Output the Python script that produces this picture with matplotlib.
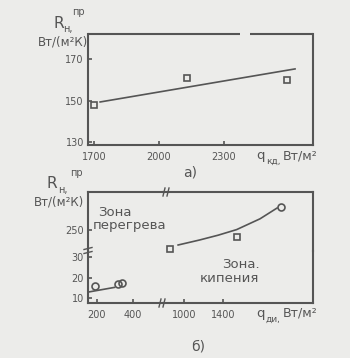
import matplotlib
matplotlib.use("Agg")
import matplotlib.pyplot as plt
from matplotlib.lines import Line2D

# panel a) : R_н^пр vs q_кд
q_kd = [1700, 2130, 2590]
r_kd = [147.8, 160.8, 159.9]
q_kd_fit = [1728, 2628]
r_kd_fit = [149.3, 165.2]
kd_yticks = [130, 150, 170]
kd_xticks = [1700, 2000, 2300]

# panel б) : superheat zone (lower-left part of broken axes)
q_over = [190, 317, 341]
r_over = [15.7, 16.7, 17.1]
q_over_fit = [151, 298]
r_over_fit = [12.9, 15.2]

# panel б) : boiling zone (upper-right part of broken axes)
q_boil_sq = [856, 1544]
r_boil_sq = [240.5, 246.5]
q_boil_ci = [1995]
r_boil_ci = [261.5]
q_boil_curve = [940, 1160, 1350, 1540, 1780, 1955]
r_boil_curve = [242.5, 245.0, 247.4, 250.2, 255.6, 261.0]

low_xticks = [200, 400]
high_xticks = [1000, 1400]
low_yticks = [10, 20, 30]
high_yticks = [250]

INK = "#555555"
BG = "#ececea"
W, H = 350, 358


def fx(px):
    return px / W


def fy(py):
    return 1 - py / H


def box(l, t, r, b):
    return [fx(l), fy(b), fx(r) - fx(l), fy(t) - fy(b)]


def style(ax, spines):
    ax.set_facecolor("none")
    for name, sp in ax.spines.items():
        sp.set_visible(name in spines)
        sp.set_color(INK)
        sp.set_linewidth(1.5)
    ax.tick_params(direction="in", length=3, width=1.2, color=INK,
                   labelcolor=INK, labelsize=7)


fig = plt.figure(figsize=(3.5, 3.58), dpi=100, facecolor=BG)

# ---- panel a)
ax = fig.add_axes(box(88, 34, 313, 145))
style(ax, ["left", "right", "bottom"])
ax.plot(q_kd_fit, r_kd_fit, color=INK, lw=1.2)
ax.plot(q_kd, r_kd, ls="none", marker="s", ms=5, mfc="none", mec=INK,
        mew=1.2, clip_on=False)
ax.set_xlim(1672, 2711)
ax.set_ylim(128.6, 182)
ax.set_xticks(kd_xticks)
ax.set_yticks(kd_yticks)
ax.tick_params(axis="x", pad=5)
ax.tick_params(axis="y", pad=3)
# top border with a gap
gap0, gap1 = (240 - 88) / 225, (250 - 88) / 225
for a, b in [(0, gap0), (gap1, 1)]:
    ax.plot([a, b], [1, 1], transform=ax.transAxes, color=INK, lw=1.5,
            clip_on=False, solid_capstyle="butt")

# ---- panel б) : 2x2 broken axes
xl, xb, xr = 88, 163, 313
yt, yb, ybot = 192, 251, 303
ax_tl = fig.add_axes(box(xl, yt, xb, yb))
ax_tr = fig.add_axes(box(xb, yt, xr, yb))
ax_bl = fig.add_axes(box(xl, yb, xb, ybot))
ax_br = fig.add_axes(box(xb, yb, xr, ybot))
style(ax_tl, ["left", "top"])
style(ax_tr, ["top", "right"])
style(ax_bl, ["left", "bottom"])
style(ax_br, ["bottom", "right"])

for a in (ax_tl, ax_bl):
    a.set_xlim(151, 566)
for a in (ax_tr, ax_br):
    a.set_xlim(785, 2323)
for a in (ax_tl, ax_tr):
    a.set_ylim(239.5, 269)
for a in (ax_bl, ax_br):
    a.set_ylim(7.6, 32.9)

ax_tl.set_xticks([])
ax_tl.set_yticks(high_yticks)
ax_tr.set_xticks([])
ax_tr.set_yticks([])
ax_bl.set_xticks(low_xticks)
ax_bl.set_yticks(low_yticks)
ax_br.set_xticks(high_xticks)
ax_br.set_yticks([])
for a in (ax_bl, ax_br):
    a.tick_params(axis="x", pad=5)
for a in (ax_tl, ax_bl):
    a.tick_params(axis="y", pad=3)

ax_bl.plot(q_over_fit, r_over_fit, color=INK, lw=1.2)
ax_bl.plot(q_over, r_over, ls="none", marker="o", ms=5, mfc="none",
           mec=INK, mew=1.2, clip_on=False)
ax_tr.plot(q_boil_curve, r_boil_curve, color=INK, lw=1.2)
ax_tr.plot(q_boil_sq, r_boil_sq, ls="none", marker="s", ms=5, mfc="none",
           mec=INK, mew=1.2, clip_on=False)
ax_tr.plot(q_boil_ci, r_boil_ci, ls="none", marker="o", ms=5, mfc="none",
           mec=INK, mew=1.2, clip_on=False)

# break marks
def brk(x0, y0, x1, y1):
    fig.add_artist(Line2D([fx(x0), fx(x1)], [fy(y0), fy(y1)], color=INK,
                          lw=1.0))

brk(84, 249.5, 92, 247.5)
brk(84, 253.5, 92, 251.5)
brk(165, 188, 163, 196)
brk(169, 188, 167, 196)
brk(161, 299, 159, 307)
brk(165, 299, 163, 307)

# ---- texts
kw = dict(color=INK, family="DejaVu Sans")
for (rx, ry), (px, py), (nx, ny), (ux, uy) in [
        ((53, 23), (72, 12), (63, 29), (88, 42)),
        ((47, 183), (70, 173), (58, 190), (84, 202))]:
    fig.text(fx(rx), fy(ry), "R", fontsize=11, ha="left", va="center", **kw)
    fig.text(fx(px), fy(py), "пр", fontsize=7, ha="left", va="center", **kw)
    fig.text(fx(nx), fy(ny), "н,", fontsize=7, ha="left", va="center", **kw)
    fig.text(fx(ux), fy(uy), "Вт/(м²К)", fontsize=8.5, ha="right",
             va="center", **kw)

for (qx, qy), sub, (sx, sy), (ux, uy) in [
        ((256, 155), "кд,", (266, 161), (283, 156)),
        ((256, 313), "ди,", (266, 319), (283, 313))]:
    fig.text(fx(qx), fy(qy), "q", fontsize=9.5, ha="left", va="center", **kw)
    fig.text(fx(sx), fy(sy), sub, fontsize=6.5, ha="left", va="center", **kw)
    fig.text(fx(ux), fy(uy), "Вт/м²", fontsize=9, ha="left", va="center",
             **kw)

fig.text(fx(190), fy(172), "а)", fontsize=10, ha="center", va="center", **kw)
fig.text(fx(198), fy(346), "б)", fontsize=10, ha="center", va="center", **kw)

fig.text(fx(98), fy(213), "Зона", fontsize=9.5, ha="left", va="center", **kw)
fig.text(fx(93), fy(225), "перегрева", fontsize=9.5, ha="left", va="center",
         **kw)
fig.text(fx(222), fy(264), "Зона.", fontsize=9.5, ha="left", va="center",
         **kw)
fig.text(fx(200), fy(278), "кипения", fontsize=9.5, ha="left", va="center",
         **kw)

fig.savefig("out.png", dpi=100, facecolor=BG)
